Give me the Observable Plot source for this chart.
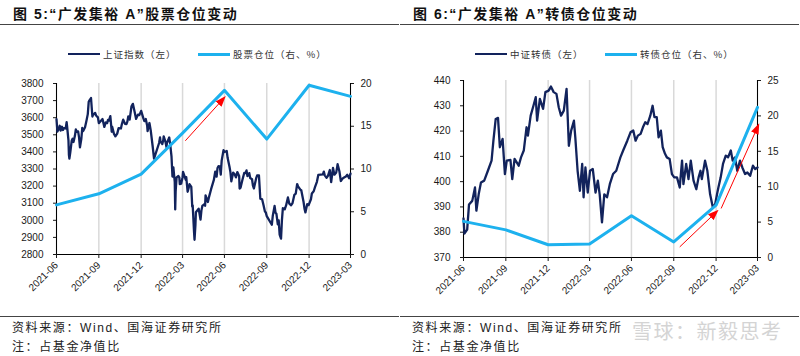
<!DOCTYPE html>
<html><head><meta charset="utf-8">
<script src="https://cdn.jsdelivr.net/npm/d3@7"></script>
<script src="https://cdn.jsdelivr.net/npm/@observablehq/plot@0.6"></script>
<style>
body{margin:0;background:#fff;}
#root{position:relative;width:800px;height:356px;overflow:hidden;font-family:"Liberation Sans","Noto Sans CJK SC",sans-serif;}
.panel{position:absolute;top:0;width:400px;height:356px;}
.title{position:absolute;left:13px;top:5px;font-size:14px;font-weight:bold;letter-spacing:1.5px;color:#111;white-space:nowrap;line-height:18px;}
.hr{position:absolute;left:0;width:399px;height:1.3px;background:#444;}
.leg{position:absolute;top:47px;height:14px;font-size:9.5px;letter-spacing:1px;color:#333;display:flex;align-items:center;white-space:nowrap;font-family:"Noto Sans CJK SC",sans-serif;}
.leg i{display:inline-block;width:32px;margin-right:3px;}
.chart{position:absolute;top:70px;left:0;}
.foot{position:absolute;left:12px;font-size:12px;letter-spacing:1.6px;color:#222;white-space:nowrap;line-height:16px;}
.wm{position:absolute;top:318px;font-size:20px;color:#d4d4d4;letter-spacing:1.5px;white-space:nowrap;font-family:"Noto Sans CJK SC",sans-serif;line-height:26px;}
</style>
</head><body><div id="root"></div>
<script>
// ---------- data ----------
const quarterTicks = ["2021-06-30","2021-09-30","2021-12-31","2022-03-31","2022-06-30","2022-09-30","2022-12-31","2023-03-31"];
const stockPosition = [5.8, 7.1, 9.4, 14.2, 19.2, 13.5, 19.8, 18.5];   // 股票仓位 (%)
const cbPosition = [5.1, 3.9, 1.8, 1.9, 5.9, 2.2, 7.4, 21.2];          // 转债仓位 (%)

const shLeftTicks = [2800,2900,3000,3100,3200,3300,3400,3500,3600,3700,3800];
const shRightTicks = [0,5,10,15,20];
const cbLeftTicks = [370,380,390,400,410,420,430,440];
const cbRightTicks = [0,5,10,15,20,25];

// 上证指数
const shIndex = [
["2021-06-30",3591],["2021-07-02",3519],["2021-07-05",3534],["2021-07-07",3553],["2021-07-09",3525],["2021-07-12",3547],
["2021-07-14",3528],["2021-07-16",3539],["2021-07-20",3537],["2021-07-22",3574],["2021-07-23",3550],["2021-07-26",3467],
["2021-07-27",3382],["2021-07-28",3361],["2021-07-30",3397],["2021-08-02",3465],["2021-08-04",3477],["2021-08-06",3458],
["2021-08-09",3494],["2021-08-11",3532],["2021-08-13",3517],["2021-08-16",3520],["2021-08-18",3485],["2021-08-20",3427],
["2021-08-23",3477],["2021-08-25",3540],["2021-08-27",3522],["2021-08-31",3544],["2021-09-03",3581],["2021-09-06",3621],
["2021-09-08",3693],["2021-09-10",3703],["2021-09-13",3715],["2021-09-16",3607],["2021-09-17",3614],["2021-09-22",3628],
["2021-09-24",3613],["2021-09-28",3602],["2021-09-30",3568],["2021-10-08",3592],["2021-10-12",3546],["2021-10-15",3572],
["2021-10-18",3568],["2021-10-20",3587],["2021-10-22",3583],["2021-10-25",3609],["2021-10-28",3518],["2021-10-29",3547],
["2021-11-02",3505],["2021-11-05",3491],["2021-11-09",3507],["2021-11-12",3539],["2021-11-17",3537],["2021-11-19",3561],
["2021-11-22",3589],["2021-11-26",3564],["2021-11-29",3562],["2021-12-01",3577],["2021-12-03",3607],["2021-12-06",3589],
["2021-12-10",3667],["2021-12-13",3681],["2021-12-17",3632],["2021-12-20",3593],["2021-12-24",3618],["2021-12-27",3615],
["2021-12-31",3640],["2022-01-05",3595],["2022-01-07",3580],["2022-01-10",3593],["2022-01-13",3555],["2022-01-14",3522],
["2022-01-18",3569],["2022-01-21",3522],["2022-01-25",3433],["2022-01-28",3361],["2022-02-08",3452],["2022-02-10",3485],
["2022-02-11",3462],["2022-02-15",3446],["2022-02-17",3468],["2022-02-18",3491],["2022-02-22",3457],["2022-02-24",3429],
["2022-02-25",3451],["2022-03-02",3484],["2022-03-04",3448],["2022-03-07",3372],["2022-03-09",3256],["2022-03-11",3309],
["2022-03-14",3224],["2022-03-15",3064],["2022-03-16",3171],["2022-03-18",3251],["2022-03-22",3259],["2022-03-24",3250],
["2022-03-25",3212],["2022-03-28",3214],["2022-03-31",3252],["2022-04-01",3283],["2022-04-07",3236],["2022-04-08",3252],
["2022-04-11",3167],["2022-04-13",3186],["2022-04-15",3211],["2022-04-19",3195],["2022-04-21",3080],["2022-04-22",3087],
["2022-04-25",2929],["2022-04-26",2886],["2022-04-28",2975],["2022-04-29",3047],["2022-05-05",3068],["2022-05-09",3004],
["2022-05-11",3058],["2022-05-13",3084],["2022-05-17",3094],["2022-05-19",3085],["2022-05-20",3146],["2022-05-25",3107],
["2022-05-27",3131],["2022-06-01",3182],["2022-06-07",3236],["2022-06-10",3285],["2022-06-13",3255],["2022-06-15",3306],
["2022-06-17",3316],["2022-06-20",3315],["2022-06-22",3267],["2022-06-24",3349],["2022-06-28",3410],["2022-06-30",3399],
["2022-07-05",3405],["2022-07-07",3364],["2022-07-11",3313],["2022-07-13",3282],["2022-07-15",3228],["2022-07-19",3279],
["2022-07-21",3272],["2022-07-22",3270],["2022-07-25",3251],["2022-07-28",3282],["2022-08-01",3259],["2022-08-02",3186],
["2022-08-04",3190],["2022-08-08",3236],["2022-08-12",3277],["2022-08-15",3276],["2022-08-17",3292],["2022-08-19",3258],
["2022-08-23",3276],["2022-08-25",3247],["2022-08-29",3240],["2022-08-31",3202],["2022-09-02",3186],["2022-09-07",3246],
["2022-09-09",3262],["2022-09-13",3263],["2022-09-16",3126],["2022-09-20",3122],["2022-09-23",3088],["2022-09-26",3051],
["2022-09-28",3045],["2022-09-30",3024],["2022-10-11",2974],["2022-10-13",3025],["2022-10-17",3084],["2022-10-19",3044],
["2022-10-21",3038],["2022-10-24",2977],["2022-10-26",2999],["2022-10-28",2916],["2022-10-31",2893],["2022-11-02",3003],
["2022-11-04",3071],["2022-11-08",3064],["2022-11-11",3087],["2022-11-15",3134],["2022-11-18",3097],["2022-11-22",3088],
["2022-11-25",3101],["2022-11-29",3149],["2022-12-02",3156],["2022-12-05",3212],["2022-12-07",3199],["2022-12-12",3179],
["2022-12-14",3176],["2022-12-19",3107],["2022-12-21",3068],["2022-12-23",3046],["2022-12-27",3095],["2022-12-30",3089],
["2023-01-04",3123],["2023-01-06",3157],["2023-01-10",3170],["2023-01-13",3195],["2023-01-17",3225],["2023-01-20",3265],
["2023-01-30",3269],["2023-02-01",3285],["2023-02-03",3263],["2023-02-07",3249],["2023-02-10",3260],["2023-02-14",3294],
["2023-02-17",3224],["2023-02-21",3306],["2023-02-24",3267],["2023-02-28",3280],["2023-03-02",3311],["2023-03-03",3328],
["2023-03-07",3285],["2023-03-10",3230],["2023-03-14",3245],["2023-03-17",3250],["2023-03-21",3256],["2023-03-24",3266],
["2023-03-28",3246],["2023-03-31",3273]
];

// 中证转债
const cbIndex = [
["2021-06-30",385.5],["2021-07-02",379.5],["2021-07-08",381],["2021-07-12",391],["2021-07-19",392.4],["2021-07-25",397.7],
["2021-07-28",388.5],["2021-08-02",395],["2021-08-07",399.7],["2021-08-14",400.4],["2021-08-22",404.3],["2021-08-30",408.3],
["2021-09-03",416.2],["2021-09-08",424.8],["2021-09-13",425.2],["2021-09-17",413.6],["2021-09-23",416.9],["2021-09-28",403],
["2021-10-02",408.3],["2021-10-10",408.6],["2021-10-14",401],["2021-10-19",409],["2021-10-28",406.3],["2021-11-02",409.6],
["2021-11-08",412.3],["2021-11-14",421.5],["2021-11-17",418.2],["2021-11-23",426.1],["2021-11-29",430],["2021-12-04",433.4],
["2021-12-07",424.1],["2021-12-13",432.7],["2021-12-20",428.8],["2021-12-25",435.4],["2022-01-01",436],["2022-01-06",437.6],
["2022-01-12",435.4],["2022-01-18",434.7],["2022-01-23",429.4],["2022-01-28",426.1],["2022-02-03",428.1],["2022-02-09",436.7],
["2022-02-14",414.2],["2022-02-19",420.2],["2022-02-25",424.1],["2022-02-28",417.5],["2022-03-05",404.3],["2022-03-10",396.4],
["2022-03-15",407],["2022-03-18",393.8],["2022-03-22",405.6],["2022-03-27",395.7],["2022-04-01",404.3],["2022-04-07",405],
["2022-04-13",395.7],["2022-04-18",400.4],["2022-04-22",395],["2022-04-27",383.9],["2022-05-02",395],["2022-05-08",393.8],
["2022-05-14",399],["2022-05-21",403],["2022-05-28",404.3],["2022-06-06",409.6],["2022-06-12",412.3],["2022-06-21",416.2],
["2022-06-28",419.5],["2022-07-04",420.2],["2022-07-09",416.2],["2022-07-14",418.2],["2022-07-20",418.9],["2022-07-25",421.5],
["2022-07-30",423.5],["2022-08-04",422.8],["2022-08-10",426.1],["2022-08-15",430],["2022-08-19",425.5],["2022-08-24",425.5],
["2022-08-28",417.5],["2022-09-02",420.2],["2022-09-06",413.6],["2022-09-11",411],["2022-09-15",409.6],["2022-09-21",409],
["2022-09-26",403],["2022-10-01",401.7],["2022-10-07",401.7],["2022-10-13",397.7],["2022-10-18",408.3],["2022-10-21",399],
["2022-10-27",407],["2022-11-01",401],["2022-11-06",408.3],["2022-11-12",400.4],["2022-11-18",397],["2022-11-23",401.7],
["2022-11-27",404.3],["2022-11-30",401],["2022-12-07",408.3],["2022-12-12",404.3],["2022-12-18",395],["2022-12-24",389.8],
["2022-12-29",391.1],["2023-01-02",395],["2023-01-05",397.7],["2023-01-10",401.7],["2023-01-15",407],["2023-01-21",410.3],
["2023-01-26",409.6],["2023-02-01",412.3],["2023-02-05",408.3],["2023-02-10",409.6],["2023-02-15",404.3],["2023-02-21",408.3],
["2023-02-26",405.6],["2023-03-04",403],["2023-03-09",403.6],["2023-03-15",402.3],["2023-03-21",406.3],["2023-03-26",405],
["2023-03-31",405.6]
];

// red annotation arrows (start date, start value on left axis, end date, end value)
const shArrows = [["2022-04-06",3465,"2022-06-25",3703]];
const cbArrows = [["2022-10-13",374.2,"2022-12-28",387.4],["2023-01-11",389.4,"2023-03-30",421.1]];

const titles = ["图 5:“广发集裕 A”股票仓位变动", "图 6:“广发集裕 A”转债仓位变动"];
const legendLabels = [["上证指数（左）","股票仓位（右、%）"],["中证转债（左）","转债仓位（右、%）"]];
const sourceText = "资料来源：Wind、国海证券研究所";
const noteText = "注：占基金净值比";
const watermarkText = "雪球：新毅思考";

// ---------- drawing ----------
const NAVY = "#12235c", BLUE = "#1db1ee";
const D = s => new Date(s);

function arrowHead(color) {
  const ns = "http://www.w3.org/2000/svg";
  const m = document.createElementNS(ns, "marker");
  m.setAttribute("viewBox", "-6 -5 12 10");
  m.setAttribute("markerWidth", 11);
  m.setAttribute("markerHeight", 9);
  m.setAttribute("markerUnits", "userSpaceOnUse");
  m.setAttribute("orient", "auto");
  m.setAttribute("refX", 0);
  const p = document.createElementNS(ns, "path");
  p.setAttribute("d", "M-6,-4.5L6,0L-6,4.5Z");
  p.setAttribute("fill", "#ff0000");
  p.setAttribute("stroke", "none");
  m.appendChild(p);
  return m;
}

function makeChart({index, pos, leftTicks, rightTicks, arrows, margins}) {
  const yDom = [leftTicks[0], leftTicks[leftTicks.length - 1]];
  const rMax = rightTicks[rightTicks.length - 1];
  const toLeft = p => yDom[0] + p * (yDom[1] - yDom[0]) / rMax;
  const fromLeft = v => (v - yDom[0]) * rMax / (yDom[1] - yDom[0]);
  const xDom = [D(quarterTicks[0]), D(quarterTicks[quarterTicks.length - 1])];
  const idx = index.map(([d, v]) => ({date: D(d), v}));
  const ps = quarterTicks.map((d, i) => ({date: D(d), v: toLeft(pos[i])}));
  const ar = arrows.map(([a, b, c, e]) => ({x1: D(a), y1: b, x2: D(c), y2: e}));
  return Plot.plot({
    width: 400, height: 240,
    ...margins,
    style: {fontFamily: "'Liberation Sans', Arial, sans-serif", fontSize: "10px", color: "#1a1a1a", background: "transparent"},
    x: {type: "utc", domain: xDom},
    y: {domain: yDom},
    marks: [
      Plot.ruleX(quarterTicks.map(D), {stroke: "#d9d9d9", strokeWidth: 1.5}),
      Plot.ruleX(xDom, {stroke: "#000", strokeWidth: 1}),
      Plot.ruleY([yDom[0]], {stroke: "#000", strokeWidth: 1}),
      Plot.axisY(leftTicks, {anchor: "left", tickSize: 3, tickPadding: 10, label: null, tickFormat: d => String(d)}),
      Plot.axisY(rightTicks.map(toLeft), {anchor: "right", tickSize: 3, tickPadding: 7, label: null, tickFormat: d => String(Math.round(fromLeft(d)))}),
      Plot.axisX(quarterTicks.map(D), {tickSize: 4, tickPadding: 5, tickRotate: -45, label: null, tickFormat: d3.utcFormat("%Y-%m")}),
      Plot.line(idx, {x: "date", y: "v", stroke: NAVY, strokeWidth: 2.3, strokeLinejoin: "round"}),
      Plot.line(ps, {x: "date", y: "v", stroke: BLUE, strokeWidth: 3}),
      Plot.link(ar, {x1: "x1", y1: "y1", x2: "x2", y2: "y2", stroke: "#ff0000", strokeWidth: 1, markerEnd: arrowHead})
    ]
  });
}

const root = document.getElementById("root");
const configs = [
  {index: shIndex, pos: stockPosition, leftTicks: shLeftTicks, rightTicks: shRightTicks, arrows: shArrows,
   margins: {marginLeft: 56, marginRight: 50, marginTop: 13, marginBottom: 56}, leg: [68, 198]},
  {index: cbIndex, pos: cbPosition, leftTicks: cbLeftTicks, rightTicks: cbRightTicks, arrows: cbArrows,
   margins: {marginLeft: 63, marginRight: 43, marginTop: 10, marginBottom: 53}, leg: [75, 205]}
];

configs.forEach((cfg, k) => {
  const p = document.createElement("div");
  p.className = "panel";
  p.style.left = (k * 400) + "px";
  p.innerHTML = `
    <div class="title">${titles[k]}</div>
    <div class="hr" style="top:24px"></div>
    <div class="leg" style="left:${cfg.leg[0]}px"><i style="height:2.5px;background:${NAVY}"></i>${legendLabels[k][0]}</div>
    <div class="leg" style="left:${cfg.leg[1]}px"><i style="height:3px;background:${BLUE}"></i>${legendLabels[k][1]}</div>
    <div class="hr" style="top:316px"></div>
    <div class="foot" style="top:320px">${sourceText}</div>
    <div class="foot" style="top:339px">${noteText}</div>`;
  const c = document.createElement("div");
  c.className = "chart";
  c.appendChild(makeChart(cfg));
  p.appendChild(c);
  root.appendChild(p);
});
const wm = document.createElement("div");
wm.className = "wm";
wm.style.left = "632px";
wm.textContent = watermarkText;
root.appendChild(wm);
</script>
</body></html>
